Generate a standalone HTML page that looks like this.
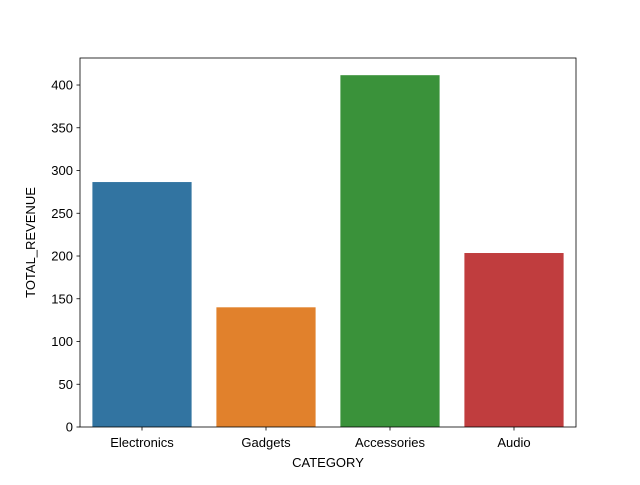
<!DOCTYPE html>
<html><head><meta charset="utf-8"><style>
body{margin:0;background:#fff;}
svg text{font-family:"Liberation Sans","DejaVu Sans",sans-serif;font-size:13px;fill:#000;}
</style></head><body>
<svg id="chart" width="640" height="480" xmlns="http://www.w3.org/2000/svg">
<rect x="0" y="0" width="640" height="480" fill="#fff"/>
<g id="bars"></g><g id="axes"></g>
</svg>
<script>
const categories = ["Electronics","Gadgets","Accessories","Audio"];
const values = [286.5, 140, 411.5, 203.5];
const yTicks = [0,50,100,150,200,250,300,350,400];
const colors = ["#3274a1","#e1812c","#3a923a","#c03d3e"];
const L=80,R=576,T=58,B=427,yMax=431.6;
const ns="http://www.w3.org/2000/svg";
const svg=document.getElementById('chart');
const gb=document.getElementById('bars'), ga=document.getElementById('axes');
function y(v){return B-(v/yMax)*(B-T);}
const step=(R-L)/categories.length;
function xc(i){return L+step*(i+0.5);}
function mk(tag,attrs,parent){const e=document.createElementNS(ns,tag);for(const k in attrs)e.setAttribute(k,attrs[k]);parent.appendChild(e);return e;}
categories.forEach((c,i)=>{
  const w=step*0.8;
  const r=mk('rect',{x:xc(i)-w/2,y:y(values[i]),width:w,height:B-y(values[i]),fill:colors[i]},gb);
  
  
  const t=mk('line',{x1:xc(i),x2:xc(i),y1:B,y2:B+3.5,stroke:'#000','stroke-width':0.8},ga);
  
  
  const lb=mk('text',{x:xc(i),y:B+20,'text-anchor':'middle'},ga);lb.textContent=c;
  
  
});
yTicks.forEach(v=>{
  const t=mk('line',{x1:L-3.5,x2:L,y1:y(v),y2:y(v),stroke:'#000','stroke-width':0.8},ga);
  
  
  const lb=mk('text',{x:L-7,y:y(v)+4.5,'text-anchor':'end'},ga);lb.textContent=v;
  
  
});
const fr=mk('rect',{x:L,y:T,width:R-L,height:B-T,fill:'none',stroke:'#000','stroke-width':0.8},ga);


const xt=mk('text',{x:(L+R)/2,y:467,'text-anchor':'middle'},ga);xt.textContent='CATEGORY';


const yt=mk('text',{x:0,y:0,'text-anchor':'middle',transform:'translate(35,'+((T+B)/2)+') rotate(-90)'},ga);yt.textContent='TOTAL_REVENUE';


</script>
</body></html>
